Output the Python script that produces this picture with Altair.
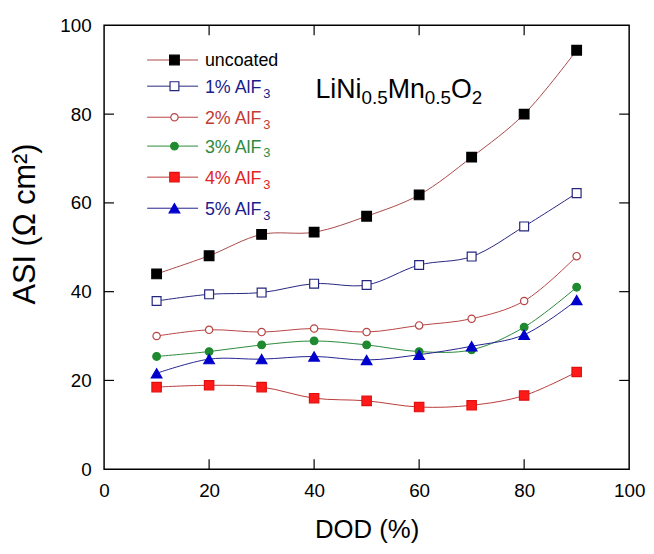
import altair as alt
import pandas as pd

# ---------------- data ----------------
DOD = [10, 20, 30, 40, 50, 60, 70, 80, 90]
SERIES = ["uncoated", "1% AlF3", "2% AlF3", "3% AlF3", "4% AlF3", "5% AlF3"]
ASI_UNCOATED = [44.0, 48.1, 52.9, 53.4, 57.0, 61.8, 70.3, 80.0, 94.4]
ASI_1 = [37.9, 39.4, 39.8, 41.8, 41.5, 46.0, 47.9, 54.7, 62.2]
ASI_2 = [30.0, 31.4, 30.9, 31.7, 30.9, 32.4, 33.9, 37.9, 48.0]
ASI_3 = [25.4, 26.5, 28.0, 28.9, 28.0, 26.5, 26.9, 32.0, 41.0]
ASI_4 = [18.5, 18.9, 18.5, 16.0, 15.4, 14.0, 14.4, 16.6, 21.9]
ASI_5 = [21.6, 24.8, 24.8, 25.4, 24.6, 25.8, 27.7, 30.3, 38.1]
ASI = [ASI_UNCOATED, ASI_1, ASI_2, ASI_3, ASI_4, ASI_5]

LEGEND_MAIN = ["uncoated", "1% AlF", "2% AlF", "3% AlF", "4% AlF", "5% AlF"]
LEGEND_SUB = ["", "3", "3", "3", "3", "3"]
FORMULA_PARTS = ["LiNi", "0.5", "Mn", "0.5", "O", "2"]

X_TICKS = [0, 20, 40, 60, 80, 100]
Y_TICKS = [0, 20, 40, 60, 80, 100]
INNER_TICKS = [20, 40, 60, 80]

# ---------------- styles ----------------
LINE_COLOR = ["#a84848", "#25257f", "#b84444", "#2b8a3b", "#b83a3a", "#22228f"]
SHAPE = ["square", "square", "circle", "circle", "square", "triangle-up"]
FILL = ["#000000", "#ffffff", "#ffffff", "#1f8a30", "#ff1a1a", "#0000cc"]
STROKE = ["#000000", "#25257f", "#b84444", "#1f8a30", "#e01010", "#0000cc"]
MSIZE = [95, 80, 55, 60, 90, 115]
TEXT_COLOR = ["#000000", "#1c1c8a", "#c23a32", "#2e8b3e", "#e32222", "#1c1c8e"]

FONT = "Liberation Sans"
W, H = 530, 448
TICK_LEN = 10

# legend / annotation placement (in data units)
LEG_X0, LEG_X1, LEG_XM, LEG_XT = 8.2, 17.9, 13.4, 19.2
LEG_Y = [92.2, 86.3, 79.3, 72.8, 65.8, 58.8]
FORM_X, FORM_Y = 40.25, 83.7
FORM_DX = [0, 46.5, 72.9, 110.4, 136.8, 157.8]
FORM_SIZE = [27, 19, 27, 19, 27, 19]
FORM_DY = [0, 6, 0, 6, 0, 6]

# ---------------- tables ----------------
rows = []
for i, s in enumerate(SERIES):
    for d, v in zip(DOD, ASI[i]):
        rows.append(dict(series=s, dod=d, asi=v, line=LINE_COLOR[i], shape=SHAPE[i],
                         fill=FILL[i], stroke=STROKE[i], msize=MSIZE[i]))
df = pd.DataFrame(rows)

leg = pd.DataFrame(dict(series=SERIES, asi=LEG_Y, main=LEGEND_MAIN, sub=LEGEND_SUB,
                        line=LINE_COLOR, shape=SHAPE, fill=FILL, stroke=STROKE,
                        msize=MSIZE, tcolor=TEXT_COLOR))
leg["x0"] = LEG_X0
leg["x1"] = LEG_X1
leg["xm"] = LEG_XM
leg["xt"] = LEG_XT

ticks = pd.DataFrame(dict(dod=INNER_TICKS, asi=INNER_TICKS))

x_axis = alt.Axis(values=X_TICKS, title="DOD (%)", domain=False, ticks=False, grid=False,
                  labelFontSize=19, labelPadding=13, labelFlush=False, labelOverlap=False,
                  labelColor="black", titleFontSize=26, titleFontWeight="normal",
                  titleColor="black", titleX=W / 2, titleY=69, titleBaseline="alphabetic",
                  titleAlign="center")
y_axis = alt.Axis(values=Y_TICKS, title="ASI (Ω cm²)", domain=False, ticks=False, grid=False,
                  labelFontSize=19, labelPadding=13, labelFlush=False, labelOverlap=False,
                  labelColor="black", titleFontSize=31, titleFontWeight="normal",
                  titleColor="black", titleAngle=270, titleX=-70, titleY=200,
                  titleBaseline="alphabetic", titleAlign="center")

xs = alt.Scale(domain=[0, 100], nice=False, zero=False)
ys = alt.Scale(domain=[0, 100], nice=False, zero=False)


def X(field="dod"):
    return alt.X(f"{field}:Q", scale=xs, axis=x_axis)


def Y(field="asi"):
    return alt.Y(f"{field}:Q", scale=ys, axis=y_axis)


lines = alt.Chart(df).mark_line(interpolate="catmull-rom", strokeWidth=1).encode(
    x=X(), y=Y(), detail="series:N", stroke=alt.Stroke("line:N", scale=None))

points = alt.Chart(df).mark_point(opacity=1, fillOpacity=1, strokeWidth=1.2).encode(
    x=X(), y=Y(),
    shape=alt.Shape("shape:N", scale=None),
    fill=alt.Fill("fill:N", scale=None),
    stroke=alt.Stroke("stroke:N", scale=None),
    size=alt.Size("msize:Q", scale=None))

# legend
leg_lines = alt.Chart(leg).mark_rule(strokeWidth=1).encode(
    x=X("x0"), x2="x1:Q", y=Y(), stroke=alt.Stroke("line:N", scale=None))
leg_pts = alt.Chart(leg).mark_point(opacity=1, fillOpacity=1, strokeWidth=1.2).encode(
    x=X("xm"), y=Y(),
    shape=alt.Shape("shape:N", scale=None),
    fill=alt.Fill("fill:N", scale=None),
    stroke=alt.Stroke("stroke:N", scale=None),
    size=alt.Size("msize:Q", scale=None))
leg_txt = alt.Chart(leg).mark_text(align="left", baseline="alphabetic", dy=6.5,
                                   fontSize=18, font=FONT).encode(
    x=X("xt"), y=Y(), text="main:N", color=alt.Color("tcolor:N", scale=None))
leg_sub = alt.Chart(leg).mark_text(align="left", baseline="alphabetic", dx=59, dy=11.5,
                                   fontSize=13, font=FONT).encode(
    x=X("xt"), y=Y(), text="sub:N", color=alt.Color("tcolor:N", scale=None))

# formula annotation
form_layers = []
for part, dx, fs, dy in zip(FORMULA_PARTS, FORM_DX, FORM_SIZE, FORM_DY):
    fdf = pd.DataFrame(dict(dod=[FORM_X], asi=[FORM_Y], t=[part]))
    form_layers.append(
        alt.Chart(fdf).mark_text(align="left", baseline="alphabetic", dx=dx, dy=dy,
                                 fontSize=fs, font=FONT, color="black").encode(
            x=X(), y=Y(), text="t:N"))

# inward ticks on all four sides
tk = dict(color="black", strokeWidth=1.2)
t_bottom = alt.Chart(ticks).mark_rule(**tk).encode(x=X(), y=alt.value(H), y2=alt.value(H - TICK_LEN))
t_top = alt.Chart(ticks).mark_rule(**tk).encode(x=X(), y=alt.value(0), y2=alt.value(TICK_LEN))
t_left = alt.Chart(ticks).mark_rule(**tk).encode(y=Y(), x=alt.value(0), x2=alt.value(TICK_LEN))
t_right = alt.Chart(ticks).mark_rule(**tk).encode(y=Y(), x=alt.value(W), x2=alt.value(W - TICK_LEN))

chart = alt.layer(
    t_bottom, t_top, t_left, t_right,
    lines, points,
    leg_lines, leg_pts, leg_txt, leg_sub,
    *form_layers,
).properties(
    width=W, height=H,
    autosize=alt.AutoSizeParams(type="none"),
    padding={"left": 97, "top": 15, "right": 17, "bottom": 75},
    background="white",
).configure(
    font=FONT,
).configure_view(
    stroke="black", strokeWidth=1.5,
).configure_axis(
    labelFont=FONT, titleFont=FONT,
)

chart.save("out.html", embed_options={"renderer": "svg", "actions": False})
